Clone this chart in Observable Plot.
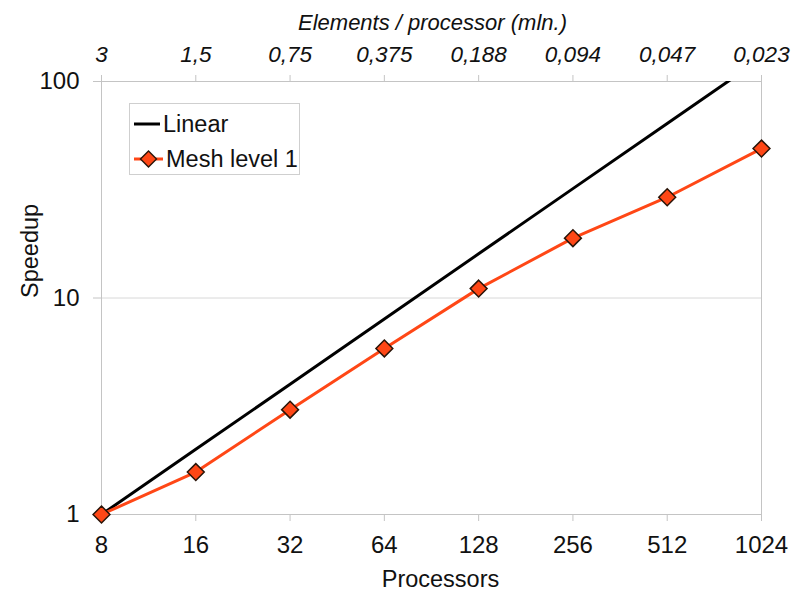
<!DOCTYPE html>
<html>
<head>
<meta charset="utf-8">
<script src="https://cdn.jsdelivr.net/npm/d3@7"></script>
<script src="https://cdn.jsdelivr.net/npm/@observablehq/plot@0.6"></script>
<style>
  html, body { margin: 0; padding: 0; background: #fff; }
  #wrap { position: relative; width: 801px; height: 600px; font-family: "Liberation Sans", Arial, sans-serif; }
  #legend {
    position: absolute; left: 129px; top: 103px; width: 171px; height: 72px;
    border: 1px solid #cfcfcf; background: #fff; box-sizing: border-box;
  }
  .row { position: absolute; left: 3px; height: 28px; display: flex; align-items: center; font-size: 23.5px; color: #111; }
  .row svg { margin-right: 3px; }
</style>
</head>
<body>
<div id="wrap"></div>
<script>
// Processor counts (bottom axis) and matching problem size per processor (top axis)
const processors = [8, 16, 32, 64, 128, 256, 512, 1024];
const elementsPerProc = ["3", "1,5", "0,75", "0,375", "0,188", "0,094", "0,047", "0,023"];

// Speedup series
const linearSpeedup = [1, 2, 4, 8, 16, 32, 64, 128];
const meshSpeedup = [1, 1.57, 3.05, 5.85, 11.05, 18.9, 29.2, 49];

const speedupTicks = [1, 10, 100];

const linearData = processors.map((p, i) => ({p, s: linearSpeedup[i]}));
const meshData = processors.map((p, i) => ({p, s: meshSpeedup[i]}));

const lineColor = "#ff4716";
const axisGrey = "#c4c4c4";
const font = "'Liberation Sans', Arial, sans-serif";

const chart = Plot.plot({
  width: 801,
  height: 600,
  marginLeft: 101,
  marginRight: 40,
  marginTop: 81,
  marginBottom: 86,
  style: {fontFamily: font, background: "#fff"},
  x: {type: "log", base: 2, domain: [8, 1024], axis: null},
  y: {type: "log", domain: [1, 100], axis: null},
  marks: [
    Plot.ruleY([10], {stroke: "#d8d8d8", strokeWidth: 1}),
    Plot.frame({stroke: axisGrey, strokeWidth: 1}),
    Plot.axisX({
      anchor: "bottom", ticks: processors, tickFormat: d => String(d),
      tickSize: 7, tickPadding: 14, fontSize: 24, label: null,
      stroke: axisGrey, fill: "#111"
    }),
    Plot.axisX({
      anchor: "top", ticks: processors,
      tickFormat: d => elementsPerProc[processors.indexOf(d)],
      tickSize: 7, tickPadding: 13, fontSize: 22.5, fontStyle: "italic", label: null,
      stroke: axisGrey, fill: "#111"
    }),
    Plot.axisY({
      anchor: "left", ticks: speedupTicks, tickFormat: d => String(d),
      tickSize: 8, tickPadding: 14, fontSize: 24, label: null,
      stroke: axisGrey, fill: "#111"
    }),
    Plot.text(["Speedup"], {text: d => d, frameAnchor: "left", dx: -71, rotate: -90, fontSize: 23.5, fill: "#111"}),
    Plot.text(["Processors"], {text: d => d, frameAnchor: "bottom", dx: 9, dy: 72, fontSize: 23.5, fill: "#111"}),
    Plot.text(["Elements / processor (mln.)"], {text: d => d, frameAnchor: "top", dx: 1, dy: -67, fontSize: 22, fontStyle: "italic", fill: "#111"}),
    Plot.line(linearData, {x: "p", y: "s", stroke: "#000", strokeWidth: 3, clip: true}),
    Plot.line(meshData, {x: "p", y: "s", stroke: lineColor, strokeWidth: 3}),
    Plot.dot(meshData, {x: "p", y: "s", symbol: "diamond2", r: 7.6, fill: lineColor, stroke: "#2a1408", strokeWidth: 1.5})
  ]
});

const wrap = document.getElementById("wrap");
wrap.appendChild(chart);

// Legend box
const legend = document.createElement("div");
legend.id = "legend";
legend.innerHTML = `
  <div class="row" style="top:6px">
    <svg width="27" height="20"><line x1="1" y1="10" x2="27" y2="10" stroke="#000" stroke-width="3"/></svg>Linear
  </div>
  <div class="row" style="top:41px">
    <svg width="30" height="22"><line x1="1" y1="11" x2="30" y2="11" stroke="${lineColor}" stroke-width="3"/>
      <path d="M15.5,3 L23.5,11 L15.5,19 L7.5,11 Z" fill="${lineColor}" stroke="#2a1408" stroke-width="1.4"/></svg>Mesh level 1
  </div>`;
wrap.appendChild(legend);
</script>
</body>
</html>
